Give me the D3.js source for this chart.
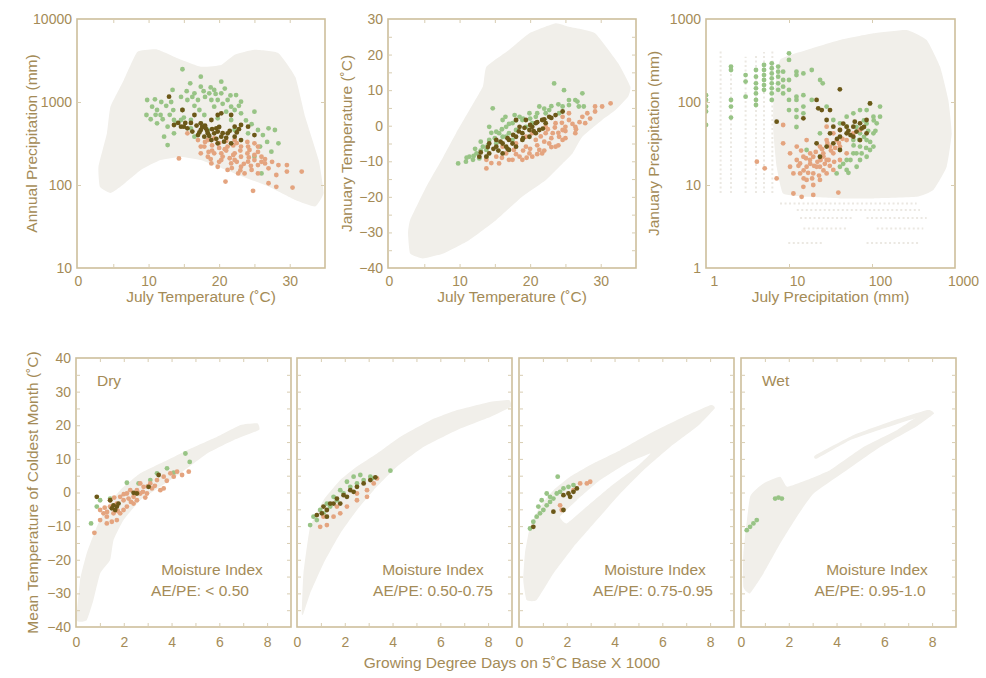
<!DOCTYPE html>
<html><head><meta charset="utf-8">
<script src="https://cdn.jsdelivr.net/npm/d3@7"></script>
<style>
body{margin:0;background:#fff;}
text{font-family:"Liberation Sans",Arial,Helvetica,sans-serif;}
</style>
</head><body>
<svg id="chart" width="986" height="678"></svg>
<script>
// ---------------- DATA ----------------
// Panel 1: July temperature (°C) vs annual precipitation (mm)
const P1_CLOUD = [[3.1,95],[2.9,166],[4.1,420],[4.6,875],[6.5,1840],[8.4,4000],[11.2,4300],[14.1,3370],[17.4,2660],[20.3,2800],[22.2,3700],[25.0,4250],[28.4,3880],[30.8,2000],[32.2,660],[34.1,200],[34.8,80],[33.6,55],[30.8,66],[27.0,96],[22.2,138],[17.4,200],[14.6,218],[11.7,200],[8.9,152],[6.0,95],[4.6,80]];
const P1_GREEN = [[14.8,2480],[9.8,1057],[9.7,697],[10.9,1076],[13.4,1396],[15.9,1680],[17.4,1531],[18.6,1271],[20.3,1758],[17.0,1057],[19.3,879],[21.2,1057],[22.2,801],[23.1,730],[25.0,765],[25.5,460],[27.0,482],[27.9,460],[28.4,318],[27.4,252],[25.0,219],[26.0,138],[12.7,303],[13.6,419],[11.2,553],[11.7,697],[12.7,505],[14.8,801],[16.0,607],[17.9,697],[19.8,635],[21.7,607],[18.4,460],[22.2,460],[24.1,419],[15.5,1057],[17.2,801],[18.9,1057],[21.7,879],[21.0,765],[22.4,1213],[23.1,1009],[20.3,1271],[19.8,1057],[16.5,1271],[17.4,2018],[19.3,1396],[11.2,801],[10.5,879],[14.6,607],[16.5,382],[13.6,607],[12.2,382],[17.4,553],[13.0,700],[14.0,560],[15.0,650],[16.5,900],[18.0,1150],[20.5,950],[22.8,900],[12.0,620],[13.5,800],[16.0,480],[16.2,1150],[17.8,1350],[18.8,1500],[20.8,1450],[21.6,1200],[19.5,1250],[15.4,1350],[14.6,1150],[12.5,900],[11.8,1000],[13.2,1000],[10.3,620],[11.0,700],[23.8,600],[24.6,540],[26.2,400],[26.8,330],[25.8,290]];
const P1_ORANGE = [[14.3,209],[17.4,290],[18.4,348],[19.8,318],[21.2,290],[22.2,241],[23.1,219],[24.1,290],[25.0,318],[19.3,241],[20.3,200],[21.7,182],[23.1,166],[24.6,152],[25.5,174],[18.4,219],[17.4,241],[21.2,152],[22.7,138],[24.1,191],[26.5,182],[27.0,159],[28.4,174],[29.6,174],[29.6,145],[28.1,132],[27.0,105],[28.1,95],[30.4,93],[31.7,145],[24.8,85],[20.9,110],[19.3,365],[22.2,348],[25.0,230],[17.0,348],[19.8,166],[22.2,200],[23.1,290],[17.9,290],[20.3,241],[23.6,138],[25.5,138],[24.3,264],[26.0,219],[25.5,290],[18.9,182],[15.5,419],[18.0,330],[19.0,300],[20.0,280],[21.0,260],[22.0,300],[23.0,260],[24.0,240],[25.0,200],[26.0,190],[20.5,220],[21.5,210],[22.5,190],[23.5,180],[24.5,170],[19.0,260],[18.5,250],[20.0,320],[21.0,340],[22.5,320],[24.0,330],[25.5,250],[26.5,205],[27.5,190],[23.0,150],[21.8,160],[20.0,190],[18.8,205],[24.2,215],[22.0,230],[20.8,270]];
const P1_DARK = [[12.9,1159],[14.8,801],[13.6,528],[14.6,505],[15.5,482],[16.5,697],[17.4,460],[18.4,419],[19.3,419],[20.3,382],[17.9,382],[18.9,348],[19.8,318],[21.2,419],[22.2,505],[23.1,528],[20.3,730],[18.9,607],[17.0,400],[20.7,333],[24.1,505],[22.2,382],[17.4,553],[15.0,505],[18.1,482],[19.6,482],[21.7,318],[23.1,348],[19.8,697],[21.7,697],[25.0,400],[16.0,560],[16.8,520],[17.6,500],[18.3,450],[19.0,470],[19.8,440],[20.5,420],[21.5,450],[22.5,430],[16.2,440],[17.2,430],[18.6,390],[19.6,360],[21.0,370],[22.8,470],[14.2,560],[15.2,560],[18.0,520],[20.0,500]];

// Panel 2: July temperature vs January temperature (°C)
const P2_CLOUD = [[3.0,-26.5],[5.3,-17.1],[7.7,-8.7],[9.5,-2.1],[11.4,4.4],[13.3,11.0],[13.8,16.6],[17.0,21.3],[19.9,26.0],[23.6,28.8],[25.5,27.8],[29.2,26.0],[32.5,17.5],[34.2,11.0],[33.9,8.2],[32.1,4.4],[30.2,1.6],[27.4,-3.1],[26.0,-7.8],[24.6,-10.6],[22.2,-15.3],[18.9,-19.9],[15.2,-26.5],[11.4,-32.1],[7.7,-35.9],[4.8,-37.3],[3.0,-35.9],[2.7,-30.2]];
const P2_GREEN = [[9.8,-10.6],[10.9,-10.1],[11.4,-8.7],[12.4,-7.8],[13.3,-5.9],[14.2,-4.0],[14.7,4.9],[15.6,-2.1],[16.6,-0.3],[17.5,0.7],[18.5,2.5],[19.9,3.5],[21.3,5.4],[22.7,4.4],[24.6,5.4],[25.5,7.2],[26.7,6.8],[27.4,9.1],[27.6,5.4],[23.4,11.9],[24.8,10.0],[12.8,-9.2],[13.8,-6.8],[15.2,-5.0],[16.1,-3.1],[17.0,-2.1],[18.0,-1.2],[19.4,-0.3],[18.9,1.6],[20.8,2.5],[22.2,3.5],[24.1,3.5],[15.2,-1.7],[16.6,-3.1],[11.9,-9.6],[13.8,-8.7],[17.5,-4.0],[20.3,0.7],[26.4,7.2],[26.9,5.4],[16.1,1.6],[14.2,-0.3],[11.0,-9.0],[12.0,-8.5],[13.0,-7.0],[14.0,-5.5],[15.0,-3.5],[16.0,-1.0],[17.0,0.5],[18.0,1.5],[19.0,2.0],[20.0,2.0],[21.0,3.5],[22.0,4.8],[23.0,5.5],[24.0,6.0],[25.5,5.8],[16.5,2.5],[17.8,3.0],[13.0,-4.5],[14.5,-2.0],[12.2,-6.5]];
const P2_ORANGE = [[13.8,-12.0],[15.6,-10.6],[17.0,-9.6],[18.5,-8.7],[19.9,-7.8],[21.3,-6.8],[22.7,-5.0],[24.1,-3.1],[24.6,-1.2],[25.0,-0.3],[26.4,-0.3],[27.8,0.7],[28.1,3.5],[29.2,4.0],[30.2,5.4],[31.4,6.3],[29.2,5.4],[25.5,1.6],[22.2,-2.1],[20.8,-4.0],[19.4,-5.9],[17.7,-6.8],[16.6,-7.8],[15.2,-8.7],[13.8,-9.6],[16.1,-5.9],[18.0,-5.0],[20.3,-2.1],[22.2,-0.3],[23.6,0.7],[24.6,2.5],[25.5,3.5],[21.7,-7.8],[23.6,-5.9],[24.6,-4.0],[20.3,-8.7],[18.9,-9.6],[26.4,-2.1],[27.4,2.5],[23.2,-2.1],[19.4,-3.1],[17.5,-9.6],[18.0,-8.0],[19.0,-7.0],[20.0,-6.5],[21.0,-5.5],[22.0,-4.5],[23.0,-3.5],[24.0,-2.0],[25.0,-1.5],[26.0,0.5],[21.5,-3.0],[22.5,-1.0],[23.5,-0.5],[24.5,0.8],[19.5,-9.0],[21.0,-8.0],[22.0,-7.0],[23.0,-6.0],[24.0,-5.5],[25.0,-3.5],[26.5,-1.0],[27.0,1.0],[28.5,2.0],[16.0,-9.0],[14.5,-10.5]];
const P2_DARK = [[12.8,-8.7],[14.2,-7.8],[15.2,-5.9],[16.1,-5.0],[17.0,-4.0],[18.0,-3.1],[18.9,-2.1],[19.9,-1.2],[20.8,0.7],[21.7,1.6],[22.7,2.5],[23.6,3.0],[24.6,4.0],[15.2,-4.0],[16.6,-5.9],[18.0,-5.9],[18.9,-4.0],[19.9,-3.1],[20.8,-2.1],[18.5,-0.3],[19.4,1.6],[21.3,-1.2],[22.2,0.7],[14.2,-5.0],[16.1,-7.8],[13.8,-8.7],[20.3,-0.3],[17.0,-6.8],[18.0,1.6],[13.0,-7.5],[14.8,-6.5],[15.8,-4.5],[16.8,-3.5],[17.6,-2.6],[18.4,-1.6],[19.2,-0.6],[20.0,0.2],[21.0,1.0],[22.0,1.8],[23.0,2.2],[17.5,-5.0],[19.0,-3.5],[20.5,-1.5],[21.8,-0.8],[15.5,-7.0],[16.8,-6.5],[14.0,-6.0]];

// Panel 3: July precipitation vs January precipitation (mm), log-log
const P3_CLOUD = [[7.8,321],[16.3,423],[41.1,558],[104,672],[262,737],[456,558],[660,267],[831,106],[912,42],[794,16.6],[548,8.7],[345,7.2],[104,6.9],[41,6.9],[16.3,7.2],[8.5,7.9],[7.1,16.6],[6.5,42],[6.5,106]];
const P3_ROWS = [{y:6,x0:7.8,x1:345},{y:5,x0:12.4,x1:378},{y:4,x0:13.6,x1:59.6},{y:4,x0:86,x1:456},{y:3,x0:14.9,x1:49.5},{y:3,x0:114,x1:415},{y:2,x0:9.8,x1:24.8},{y:2,x0:86,x1:378}];
const P3_COLS = [{x:1.5,y0:8,y1:420},{x:2.0,y0:8,y1:300},{x:3.0,y0:8,y1:350},{x:4.0,y0:8,y1:380},{x:5.0,y0:8,y1:400},{x:6.3,y0:8,y1:420}];
const P3_GREEN = [[1.0,121],[1.0,106],[1.0,88],[1.0,77],[1.0,53],[2.0,267],[2.0,243],[2.0,106],[2.0,88],[2.0,65],[3.0,211],[3.0,176],[3.0,116],[4.0,243],[4.0,202],[4.0,168],[4.0,146],[4.0,127],[4.0,106],[4.0,92],[5.0,279],[5.0,243],[5.0,211],[5.0,184],[5.0,160],[5.0,140],[6.2,292],[6.2,255],[6.2,221],[6.2,193],[6.2,168],[6.2,146],[6.2,127],[6.2,106],[7.4,267],[7.4,232],[7.4,202],[7.4,168],[7.4,140],[8.5,232],[8.5,184],[8.5,153],[8.5,127],[10,386],[10,321],[10,184],[10,140],[10,106],[10,80],[12.3,232],[12.3,211],[12.3,116],[12.3,106],[12.3,80],[12.3,66],[12.3,50],[14.9,221],[14.9,121],[14.9,88],[14.9,73],[18.8,243],[18.8,106],[23.7,184],[25.5,168],[34.2,60.7],[41.1,55.3],[49.5,66.6],[59.6,73],[71.7,80],[86.2,80],[94.6,96],[125,88],[104,66.6],[114,55.3],[104,41.9],[86,34.8],[71.7,29],[59.6,24.1],[49.5,20],[41.1,16.6],[37.5,13.8],[49.5,15.2],[65.3,16.6],[71.7,20],[86.2,21.9],[104,29],[71.7,41.9],[59.6,34.8],[28.4,88],[23.6,41.9],[16.3,26.4],[49.5,50.5],[86,55],[125,66.6],[65,24.1],[94.6,26.4],[60,30],[70,35],[80,38],[90,45],[55,20],[75,24],[95,33],[110,45],[105,60],[80,60],[65,50],[45,18],[52,14],[85,28]];
const P3_ORANGE = [[4.1,19.1],[5.1,15.9],[7.1,12.0],[8.5,31.8],[10.3,24.1],[11.3,13.8],[12.4,20],[14.9,9.5],[16.3,16.6],[19.6,21.9],[23.6,29],[28.4,34.8],[34.2,41.9],[41.1,46],[19.6,13.8],[23.6,16.6],[28.4,20],[34.2,24.1],[41.1,29],[49.5,34.8],[59.6,41.9],[71.7,46],[13.6,13.8],[16.3,11.5],[19.6,10],[23.6,11.5],[28.4,13.8],[34.2,15.2],[41.1,20],[11.3,7.9],[14.2,7.2],[19.6,7.6],[39.3,8.1],[10.3,16.6],[12.4,29],[16.3,34.8],[8.5,52.8],[28.4,50.5],[49.5,24.1],[21.5,16.6],[17.9,20],[14.9,21.9],[13.6,18.2],[25.9,24.1],[31.2,29],[37.5,34.8],[13,17],[15,15],[17,14],[18,18],[20,17],[22,19],[24,20],[26,22],[27,18],[30,20],[32,26],[36,28],[40,32],[44,36],[21,25],[25,27],[29,32],[18,24],[16,21],[23,13],[26,15],[31,17],[35,19],[15,12],[19,12],[14,26]];
const P3_DARK = [[7.1,58],[14.9,63.5],[21.5,106],[22.5,84],[24.8,80],[31.2,80],[41,142],[94.6,96],[28.4,60.7],[34.2,50.5],[41.1,46],[49.5,50.5],[59.6,50.5],[71.7,55.3],[41.1,38.2],[49.5,41.9],[59.6,38.2],[71.7,34.8],[86,41.9],[34.2,31.8],[28.4,29],[23.6,21.9],[41.1,26.4],[86,60.7],[31.2,41.9],[21.5,31.8],[45,55],[52,45],[65,44],[75,48],[38,36],[55,40],[80,50],[62,58]];

// Bottom panels: growing degree days (x1000) vs mean temperature of coldest month (°C)
const B1_CLOUD = [[0.03,-38.0],[0.17,-26.1],[0.45,-18.1],[0.87,-10.2],[1.29,-4.2],[1.85,0.7],[2.69,5.7],[3.81,9.6],[4.65,12.6],[5.91,16.6],[6.89,20.1],[7.59,20.6],[7.66,18.6],[6.61,15.6],[5.49,11.6],[4.37,5.7],[3.53,1.7],[2.69,-2.3],[1.99,-8.2],[1.57,-14.2],[1.43,-20.1],[1.01,-24.1],[0.73,-32.0],[0.45,-38.0]];
const B1_GREEN = [[0.63,-9.2],[0.87,-4.2],[1.01,-2.3],[2.13,2.9],[2.62,2.7],[3.39,5.7],[3.81,7.2],[4.09,5.9],[4.58,11.6],[4.76,9.1],[1.43,-1.8],[3.11,3.7]];
const B1_ORANGE = [[0.77,-12.0],[1.01,-8.2],[1.29,-7.2],[1.57,-6.2],[1.43,-4.2],[1.71,-3.3],[1.99,-2.3],[2.13,-0.3],[2.41,-1.3],[2.55,0.7],[2.83,1.7],[3.11,2.7],[3.39,3.7],[3.67,4.7],[3.95,5.7],[4.23,6.2],[4.44,5.2],[4.72,6.2],[3.53,0.7],[2.97,-0.3],[2.55,-2.3],[2.13,-4.2],[1.85,-6.2],[1.29,-9.2],[1.15,-6.2],[1.01,-5.2],[1.43,-2.3],[1.85,-1.3],[2.27,0.7],[2.69,2.7],[1.71,-8.2],[2.41,-3.3],[1.99,-5.2],[1.50,-8.7],[2.69,-0.3],[3.18,1.2],[3.67,1.2],[4.09,4.7],[1.2,-4.5],[1.6,-1.5],[2.0,-0.5],[2.3,-2.8],[2.8,0.2],[3.0,1.8],[3.3,2.0],[3.8,3.5],[1.3,-5.8],[1.75,-5.5],[2.2,-1.8],[2.9,-1.5]];
const B1_DARK = [[1.57,-3.8],[1.71,-4.2],[1.64,-5.2],[1.78,-3.3],[1.50,-4.7],[1.43,-2.3],[2.41,-0.1],[3.04,1.7],[3.46,5.2],[0.87,-1.3],[2.55,-0.3]];

const B2_CLOUD = [[0.20,-36.0],[0.27,-24.1],[0.55,-10.2],[1.11,-2.3],[1.81,3.7],[2.51,7.7],[3.35,11.6],[4.33,16.6],[5.59,21.5],[6.71,24.5],[8.11,27.0],[8.88,27.5],[8.95,25.5],[8.11,22.5],[6.71,18.6],[5.31,13.6],[4.19,7.7],[3.21,0.7],[2.51,-5.2],[1.81,-12.2],[1.11,-21.1],[0.55,-30.0],[0.27,-36.0]];
const B2_GREEN = [[0.55,-9.7],[0.83,-8.2],[1.11,-6.2],[1.39,-4.2],[1.67,-2.3],[1.95,-0.3],[2.23,1.7],[2.51,2.7],[2.79,3.7],[3.07,4.7],[3.91,6.5],[2.09,3.2],[1.81,0.7],[1.53,-1.3],[1.25,-3.3],[0.97,-5.2],[0.69,-7.2],[2.37,4.7],[2.65,5.2],[3.14,4.2]];
const B2_ORANGE = [[0.97,-10.2],[1.25,-9.7],[1.53,-7.2],[1.81,-6.2],[2.09,-4.2],[2.51,-2.3],[2.93,0.7],[3.21,2.7],[3.35,4.2],[1.67,-4.2],[1.11,-7.2],[2.93,-1.3],[2.51,-0.3]];
const B2_DARK = [[0.83,-6.7],[1.04,-6.2],[1.25,-5.2],[1.39,-3.3],[1.67,-1.8],[1.95,-0.8],[2.23,0.7],[2.51,1.7],[2.79,2.7],[3.07,3.7],[3.28,4.5],[1.53,-3.3],[1.11,-4.2],[1.81,-3.3],[2.09,-1.3],[2.37,0.2],[1.25,-7.2]];

const B3_CLOUD = [[0.25,-18.1],[0.46,-10.2],[0.88,-4.2],[1.44,0.7],[2.14,4.7],[3.12,8.7],[4.24,12.6],[5.50,17.6],[6.90,22.5],[8.03,26.0],[8.19,25.0],[7.46,19.6],[6.34,13.6],[5.22,6.7],[4.24,-0.3],[3.26,-8.2],[2.28,-16.2],[1.44,-24.1],[0.74,-32.0],[0.32,-32.0],[0.18,-26.1]];
const B3_HOLE = [[1.72,-7.2],[2.42,-2.3],[3.40,3.7],[4.52,8.7],[5.50,11.6],[4.94,7.7],[3.82,1.7],[2.84,-4.2],[2.00,-9.2]];
const B3_GREEN = [[0.46,-10.7],[0.60,-8.7],[0.74,-7.2],[0.88,-6.2],[1.02,-5.2],[1.16,-3.8],[1.30,-2.8],[1.44,-1.8],[1.58,-0.3],[1.72,0.2],[1.86,1.2],[2.07,1.7],[2.28,2.2],[1.62,4.7],[1.16,-0.3],[0.81,-4.2],[0.95,-2.3],[1.30,-1.3]];
const B3_ORANGE = [[2.56,2.7],[2.84,2.7],[2.98,3.2],[1.72,-3.8],[1.79,-5.2],[2.28,0.7]];
const B3_DARK = [[0.60,-10.2],[1.44,-5.7],[1.86,-5.2],[1.86,-0.8],[2.07,-0.3],[2.28,0.2],[2.42,1.2],[2.14,-1.3]];

const B4_CLOUD = [[0.10,-18.1],[0.38,-1.3],[0.94,2.7],[1.64,4.7],[1.93,1.7],[2.76,3.7],[3.74,6.7],[5.14,13.6],[6.54,18.6],[7.80,24.5],[8.08,23.5],[7.38,19.8],[5.84,13.6],[4.44,6.7],[3.04,-0.3],[2.34,-7.2],[1.64,-15.2],[0.94,-24.1],[0.38,-30.0],[0.10,-28.1]];
const B4_STRAND = [[3.11,11.1],[4.72,17.1],[6.26,21.1],[7.80,24.5],[7.66,23.0],[6.12,19.4],[4.58,15.6],[3.18,10.1]];
const B4_GREEN = [[0.24,-11.2],[0.38,-10.2],[0.52,-9.2],[0.66,-8.2],[1.43,-1.8],[1.57,-1.5],[1.71,-1.8]];
const B4_ORANGE = [];
const B4_DARK = [];

// Tick labels / texts
const TEMP_TICKS = [0,10,20,30];
const PRECIP_TICKS = [10,100,1000,10000];
const JANT_TICKS = [-40,-30,-20,-10,0,10,20,30];
const LOG3_TICKS = [1,10,100,1000];
const GDD_TICKS = [0,2,4,6,8];
const CMT_TICKS = [-40,-30,-20,-10,0,10,20,30,40];
const MOISTURE_LABELS = ["AE/PE: < 0.50","AE/PE: 0.50-0.75","AE/PE: 0.75-0.95","AE/PE: 0.95-1.0"];
const CORNER_LABELS = ["Dry","","","Wet"];

// ---------------- STYLE ----------------
const C = {cloud:"#f1efea", green:"#98c486", orange:"#e4a47f", dark:"#6b5818", text:"#a48b57", frame:"#cdbf9c", tick:"#d8cdb2", row:"#ebe8e2"};
const TITLE_FS = "15.5px", TICK_FS = "14px", NOTE_FS = "15.5px";
const svg = d3.select("#chart");
let clipN = 0;

function panel(o){
  const {x, y, L, R, T, B} = o;
  const g = svg.append("g");
  const id = "clip" + (clipN++);
  svg.append("clipPath").attr("id", id).append("rect").attr("x", L).attr("y", T).attr("width", R-L).attr("height", B-T);
  const inner = g.append("g").attr("clip-path", `url(#${id})`);
  const line = d3.line().x(d=>x(d[0])).y(d=>y(d[1])).curve(d3.curveCardinalClosed.tension(0.6));
  (o.extraLines||[]).forEach(s=>{
    inner.append("line").attr("x1", x(s.x0 ?? s.x)).attr("x2", x(s.x1 ?? s.x)).attr("y1", y(s.y0 ?? s.y)).attr("y2", y(s.y1 ?? s.y))
      .attr("stroke", C.row).attr("stroke-width", 2).attr("stroke-dasharray", "2,2.5");
  });
  (o.clouds||[]).forEach(c=>{
    const d = c.map(r=>line(r)).join("");
    inner.append("path").attr("d", d).attr("fill", C.cloud).attr("fill-rule","evenodd");
  });
  [["green",o.green],["orange",o.orange],["dark",o.dark]].forEach(([k,arr])=>{
    inner.selectAll(null).data(arr||[]).join("circle")
      .attr("cx", d=>x(d[0])).attr("cy", d=>y(d[1])).attr("r", 2.4).attr("fill", C[k]);
  });
  g.append("rect").attr("x", L).attr("y", T).attr("width", R-L).attr("height", B-T)
    .attr("fill","none").attr("stroke", C.frame).attr("stroke-width", 1.6);
  const tk = (sel)=>{ sel.select(".domain").remove(); sel.selectAll("line").attr("stroke", C.tick); };
  g.append("g").attr("transform",`translate(0,${B})`).call(d3.axisBottom(x).tickValues(o.xMinor).tickSize(-4).tickFormat("")).call(tk);
  g.append("g").attr("transform",`translate(0,${T})`).call(d3.axisTop(x).tickValues(o.xMinor).tickSize(-4).tickFormat("")).call(tk);
  g.append("g").attr("transform",`translate(${L},0)`).call(d3.axisLeft(y).tickValues(o.yMinor).tickSize(-4).tickFormat("")).call(tk);
  g.append("g").attr("transform",`translate(${R},0)`).call(d3.axisRight(y).tickValues(o.yMinor).tickSize(-4).tickFormat("")).call(tk);
  const lab = (sel)=>{ sel.select(".domain").remove(); sel.selectAll("line").remove();
    sel.selectAll("text").attr("fill", C.text).style("font-size",TICK_FS); sel.attr("font-family", null); };
  if(o.xLabels){
    g.append("g").attr("transform",`translate(${o.xdx||0},${B})`)
      .call(d3.axisBottom(x).tickValues(o.xLabels).tickSize(0).tickPadding(o.xpad||8).tickFormat(d3.format("d"))).call(lab);
  }
  if(o.yLabels){
    g.append("g").attr("transform",`translate(${L},0)`)
      .call(d3.axisLeft(y).tickValues(o.yLabels).tickSize(0).tickPadding(5).tickFormat(d3.format("d"))).call(lab);
  }
  if(o.xTitle){
    g.append("text").attr("x",(L+R)/2).attr("y",o.xTitleY).attr("text-anchor","middle")
      .attr("fill",C.text).style("font-size",TITLE_FS).text(o.xTitle);
  }
  if(o.yTitle){
    g.append("text").attr("transform",`translate(${o.yTitleX},${(T+B)/2}) rotate(-90)`).attr("text-anchor","middle")
      .attr("fill",C.text).style("font-size",TITLE_FS).text(o.yTitle);
  }
  return g;
}

// ---------------- TOP ROW ----------------
const TT = 19, TB = 268;
const x1 = d3.scaleLinear().domain([0,35]).range([78,325]);
const y1 = d3.scaleLog().domain([10,10000]).range([TB,TT]);
panel({x:x1,y:y1,L:77,R:325,T:TT,B:TB,clouds:[[P1_CLOUD]],green:P1_GREEN,orange:P1_ORANGE,dark:P1_DARK,
  xMinor:d3.range(5,35,5), yMinor:[100,1000], xLabels:TEMP_TICKS, yLabels:PRECIP_TICKS,
  xTitle:"July Temperature (˚C)", xTitleY:302, yTitle:"Annual Precipitation (mm)", yTitleX:37});

const x2 = d3.scaleLinear().domain([0,35]).range([389,636]);
const y2 = d3.scaleLinear().domain([-40,30]).range([TB,TT]);
panel({x:x2,y:y2,L:388,R:636,T:TT,B:TB,clouds:[[P2_CLOUD]],green:P2_GREEN,orange:P2_ORANGE,dark:P2_DARK,
  xMinor:d3.range(5,35,5), yMinor:d3.range(-35,30,5), xLabels:TEMP_TICKS, yLabels:JANT_TICKS,
  xTitle:"July Temperature (˚C)", xTitleY:302, yTitle:"January Temperature (˚C)", yTitleX:352});

const x3 = d3.scaleLog().domain([1,1000]).range([706,955]);
const y3 = d3.scaleLog().domain([1,1000]).range([TB,TT]);
panel({x:x3,y:y3,L:706,R:955,T:TT,B:TB,clouds:[[P3_CLOUD]],extraLines:[...P3_ROWS,...P3_COLS],
  green:P3_GREEN,orange:P3_ORANGE,dark:P3_DARK,
  xMinor:[10,100], yMinor:[10,100], xLabels:LOG3_TICKS, xdx:8, yLabels:LOG3_TICKS,
  xTitle:"July Precipitation (mm)", xTitleY:302, yTitle:"January Precipitation (mm)", yTitleX:659});

// ---------------- BOTTOM ROW ----------------
const BT = 358, BB = 627;
const lefts = [76, 297, 519, 741];
const bData = [
  {clouds:[[B1_CLOUD]], green:B1_GREEN, orange:B1_ORANGE, dark:B1_DARK},
  {clouds:[[B2_CLOUD]], green:B2_GREEN, orange:B2_ORANGE, dark:B2_DARK},
  {clouds:[[B3_CLOUD,B3_HOLE]], green:B3_GREEN, orange:B3_ORANGE, dark:B3_DARK},
  {clouds:[[B4_CLOUD],[B4_STRAND]], green:B4_GREEN, orange:B4_ORANGE, dark:B4_DARK}
];
const aeOffsets = [124,136,134,129];
const yb = d3.scaleLinear().domain([-40,40]).range([BB,BT]);
lefts.forEach((L,i)=>{
  const R = L + 215;
  const xb = d3.scaleLinear().domain([0,9]).range([L,R]);
  const g = panel(Object.assign({x:xb,y:yb,L,R,T:BT,B:BB,
    xMinor:d3.range(1,9,1), yMinor:d3.range(-35,40,5), xLabels:GDD_TICKS, xpad:10,
    yLabels: i===0 ? CMT_TICKS : null,
    yTitle: i===0 ? "Mean Temperature of Coldest Month (˚C)" : null, yTitleX:38}, bData[i]));
  g.append("text").attr("x", L+136).attr("y", 575).attr("text-anchor","middle").attr("fill",C.text)
    .style("font-size",NOTE_FS).text("Moisture Index");
  g.append("text").attr("x", L+aeOffsets[i]).attr("y", 596).attr("text-anchor","middle").attr("fill",C.text)
    .style("font-size",NOTE_FS).text(MOISTURE_LABELS[i]);
  if(CORNER_LABELS[i]) g.append("text").attr("x", L+21).attr("y", 386).attr("fill",C.text)
    .style("font-size",NOTE_FS).text(CORNER_LABELS[i]);
});
svg.append("text").attr("x", 512).attr("y", 668).attr("text-anchor","middle").attr("fill",C.text)
  .style("font-size",TITLE_FS).text("Growing Degree Days on 5˚C Base X 1000");
</script>
</body></html>
